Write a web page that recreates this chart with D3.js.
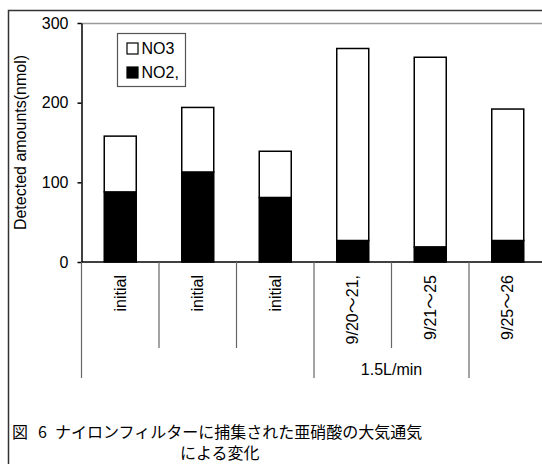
<!DOCTYPE html>
<html>
<head>
<meta charset="utf-8">
<script src="https://cdn.jsdelivr.net/npm/d3@7"></script>
<style>
  body { margin: 0; background: #fff; }
  svg { display: block; font-family: "Liberation Sans", Arial, "Noto Sans CJK JP", sans-serif; }
  .tick text { font-size: 16px; fill: #000; }
  .cat { font-size: 16px; }
  .title { font-family: "Noto Sans CJK JP", sans-serif; font-size: 16px; }
</style>
</head>
<body>
<svg width="542" height="464"></svg>
<script>
// data
var categories = ["initial", "initial", "initial", "9/20～21,", "9/21～25", "9/25～26"];
var no2 = [88, 113, 81, 27, 19, 27];
var no3 = [70, 81, 58, 241, 238, 165];
var groupLabels = ["", "1.5L/min", ""];
var groupSpans = [3, 2, 1];
var yTicks = [0, 100, 200, 300];
var seriesNames = ["NO3", "NO2,"];

var svg = d3.select("svg"),
    plotLeft = 81.5, plotTop = 23, zero = 262, plotRight = 546.5;

svg.append("rect").attr("width", 542).attr("height", 464).attr("fill", "#fff");

// outer chart frame (runs off the picture on right and bottom)
svg.append("rect")
    .attr("x", 8.5).attr("y", 10.5)
    .attr("width", 620).attr("height", 520)
    .attr("fill", "none").attr("stroke", "#333").attr("stroke-width", 1.5);

var x = d3.scaleBand()
    .domain(d3.range(categories.length))
    .range([plotLeft, plotRight])
    .paddingInner(0.587)
    .paddingOuter(0.587 / 2);

var y = d3.scaleLinear()
    .domain([0, 300])
    .range([zero, plotTop]);

// plot area top border
svg.append("line")
    .attr("x1", plotLeft).attr("x2", 600)
    .attr("y1", y(300) + 0.5).attr("y2", y(300) + 0.5)
    .attr("stroke", "#999").attr("stroke-width", 1.5);

//-----------------------------------------------------------------
var table = categories.map(function (c, i) { return {i: i, NO2: no2[i], NO3: no3[i]}; });
var stacked = d3.stack().keys(["NO2", "NO3"])(table);

svg.append("g")
  .selectAll("g")
  .data(stacked)
  .join("g")
    .attr("fill", function (d) { return d.key == "NO2" ? "#000" : "#fff"; })
  .selectAll("rect")
  .data(function (d) { return d; })
  .join("rect")
    .attr("x", function (d) { return x(d.data.i); })
    .attr("width", x.bandwidth())
    .attr("y", function (d) { return y(d[1]); })
    .attr("height", function (d) { return y(d[0]) - y(d[1]); })
    .attr("stroke", "#000")
    .attr("stroke-width", 1.5);

//-----------------------------------------------------------------
// value axis
var yAxis = svg.append("g")
    .attr("transform", "translate(" + plotLeft + ",0)")
    .call(d3.axisLeft(y).tickValues(yTicks).tickSize(4).tickSizeOuter(0).tickPadding(9));
yAxis.select(".domain").attr("stroke", "#000").attr("stroke-width", 1.5);
yAxis.selectAll(".tick line").attr("stroke", "#000").attr("stroke-width", 1.5);
yAxis.selectAll(".tick text").attr("font-family", null).attr("font-size", null);

svg.append("text")
    .attr("transform", "translate(26," + ((plotTop + zero) / 2) + ") rotate(-90)")
    .attr("text-anchor", "middle")
    .attr("font-size", 16)
    .text("Detected amounts(nmol)");

//-----------------------------------------------------------------
// category axis: baseline, dividers, labels
svg.append("line")
    .attr("x1", plotLeft).attr("x2", 600)
    .attr("y1", zero).attr("y2", zero)
    .attr("stroke", "#000").attr("stroke-width", 1.5);

var step = x.step();
var groupEdges = [0];
groupSpans.forEach(function (s) { groupEdges.push(groupEdges[groupEdges.length - 1] + s); });

d3.range(categories.length + 1).forEach(function (k) {
  var long = groupEdges.indexOf(k) >= 0;
  svg.append("line")
      .attr("x1", plotLeft + k * step).attr("x2", plotLeft + k * step)
      .attr("y1", zero).attr("y2", long ? 378 : 348)
      .attr("stroke", "#666").attr("stroke-width", 1.2);
});

svg.append("g").selectAll("text")
  .data(categories)
  .join("text")
    .attr("class", "cat")
    .attr("font-size", 17)
    .attr("transform", function (d, i) {
      return "translate(" + (x(i) + x.bandwidth() / 2) + ",275) rotate(-90)";
    })
    .attr("dy", "0.35em")
    .attr("text-anchor", "end")
    .text(function (d) { return d; });

svg.append("g").selectAll("text")
  .data(groupLabels)
  .join("text")
    .attr("class", "cat")
    .attr("x", function (d, i) { return plotLeft + (groupEdges[i] + groupSpans[i] / 2) * step; })
    .attr("y", 375)
    .attr("text-anchor", "middle")
    .text(function (d) { return d; });

//-----------------------------------------------------------------
// legend
var legend = svg.append("g").attr("transform", "translate(117.5,33.5)");
legend.append("rect")
    .attr("width", 68).attr("height", 53)
    .attr("fill", "#fff").attr("stroke", "#555").attr("stroke-width", 1.2);
seriesNames.forEach(function (name, i) {
  legend.append("rect")
      .attr("x", 9.5).attr("y", 9.5 + i * 24)
      .attr("width", 11).attr("height", 11)
      .attr("fill", name == "NO3" ? "#fff" : "#000")
      .attr("stroke", "#000").attr("stroke-width", 1.2);
  legend.append("text")
      .attr("x", 24).attr("y", 20.5 + i * 24)
      .attr("font-size", 16)
      .text(name);
});

//-----------------------------------------------------------------
// caption
var cap = svg.append("text").attr("class", "title").attr("y", 438);
cap.append("tspan").attr("x", 12).text("図");
cap.append("tspan").attr("x", 38).text("6");
cap.append("tspan").attr("x", 55).text("ナイロンフィルターに捕集された亜硝酸の大気通気");
svg.append("text").attr("class", "title")
    .attr("x", 180).attr("y", 459)
    .text("による変化");
</script>
</body>
</html>
